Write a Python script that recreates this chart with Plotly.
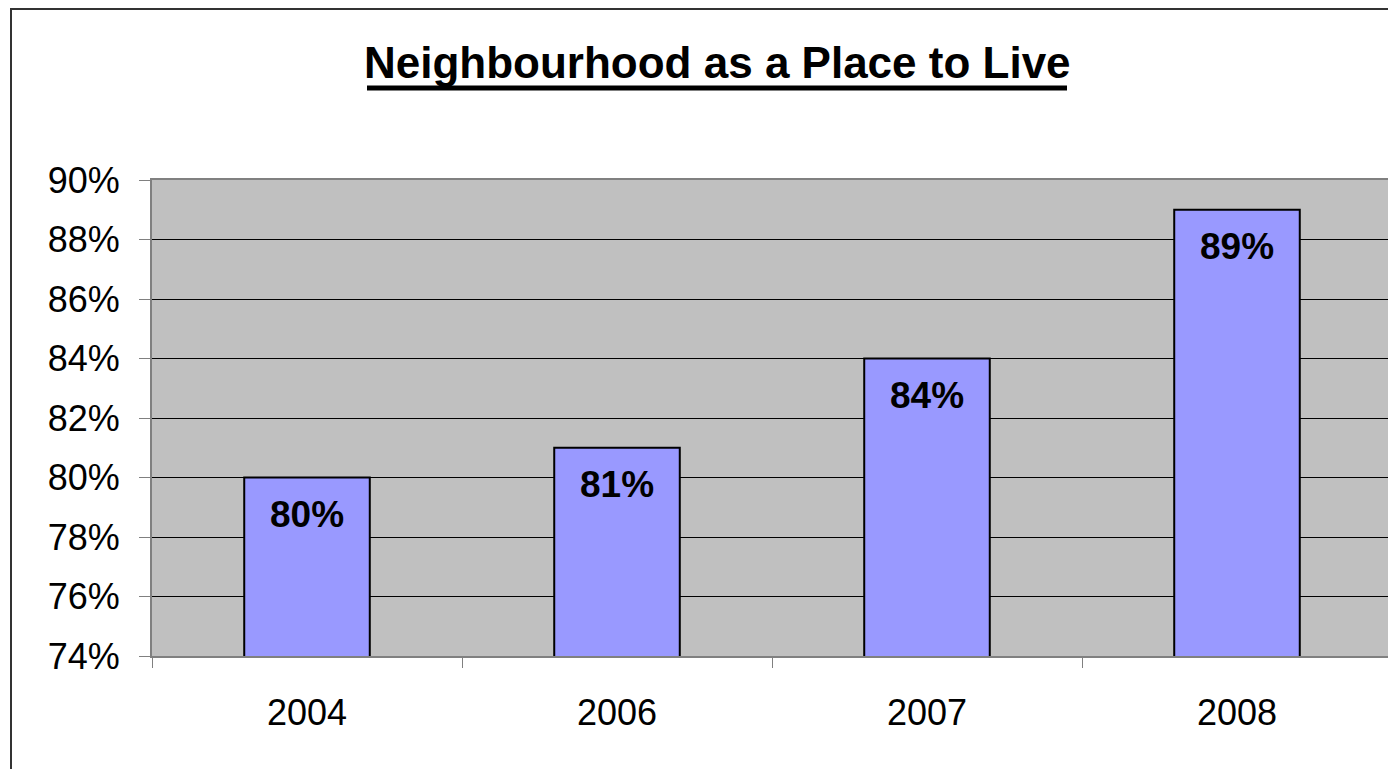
import plotly.graph_objects as go

years = ["2004", "2006", "2007", "2008"]
values = [80, 81, 84, 89]
labels = ["80%", "81%", "84%", "89%"]
y_ticks = [74, 76, 78, 80, 82, 84, 86, 88, 90]
y_tick_text = ["74%", "76%", "78%", "80%", "82%", "84%", "86%", "88%", "90%"]

OFF = 8  # page body margin
W, H = 1396 - OFF, 769 - OFF
# plot area in screen pixels
PX0, PX1, PY0, PY1 = 152, 1392, 180, 656
L, T = PX0 - OFF, PY0 - OFF
R, B = W - (PX1 - OFF), H - (PY1 - OFF)
pw, ph = PX1 - PX0, PY1 - PY0


def px(x):
    return (x - PX0) / pw


def py(y):
    return (PY1 - y) / ph


fig = go.Figure()
fig.add_trace(go.Bar(
    x=years, y=values, width=0.405,
    marker=dict(color="#9999FF", line=dict(color="#000000", width=2)),
    hoverinfo="skip", showlegend=False,
))

for i, (v, t) in enumerate(zip(values, labels)):
    fig.add_annotation(x=i, y=v, text="<b>" + t + "</b>", showarrow=False,
                       yshift=-37, yanchor="middle",
                       font=dict(family="Liberation Sans, Arial", size=37, color="#000000"))

fig.add_annotation(xref="paper", yref="paper", x=px(717), y=py(62),
                   text="<b>Neighbourhood as a Place to Live</b>", showarrow=False,
                   xanchor="center", yanchor="middle",
                   font=dict(family="Liberation Sans, Arial", size=44, color="#000000"))
# title underline
fig.add_shape(type="line", xref="paper", yref="paper",
              x0=px(367), x1=px(1067), y0=py(88), y1=py(88),
              line=dict(color="#000000", width=5))
# outer chart border
fig.add_shape(type="rect", xref="paper", yref="paper",
              x0=px(11), x1=px(1396 + 30), y0=py(769 + 30), y1=py(9),
              line=dict(color="#333333", width=2), fillcolor="rgba(0,0,0,0)", layer="below")

fig.update_layout(
    width=W, height=H,
    margin=dict(l=L, r=R, t=T, b=B),
    paper_bgcolor="#FFFFFF",
    plot_bgcolor="#C0C0C0",
    font=dict(family="Liberation Sans, Arial", size=36, color="#000000"),
)
fig.update_xaxes(
    type="category", range=[-0.5, 3.5], tickson="boundaries", ticks="outside", ticklen=10,
    tickcolor="#808080", tickwidth=1, tickangle=0, automargin=False,
    showline=True, linecolor="#808080", linewidth=2, mirror=True,
    showgrid=False, ticklabelstandoff=24,
    tickfont=dict(size=36),
)
fig.update_yaxes(
    range=[74, 90], tickvals=y_ticks, ticktext=y_tick_text, automargin=False,
    ticks="outside", ticklen=11, tickcolor="#808080", tickwidth=1,
    showline=True, linecolor="#808080", linewidth=2, mirror=True,
    showgrid=True, gridcolor="#000000", gridwidth=1,
    ticklabelstandoff=12, zeroline=False,
    tickfont=dict(size=36),
)

fig.write_html("out.html")
